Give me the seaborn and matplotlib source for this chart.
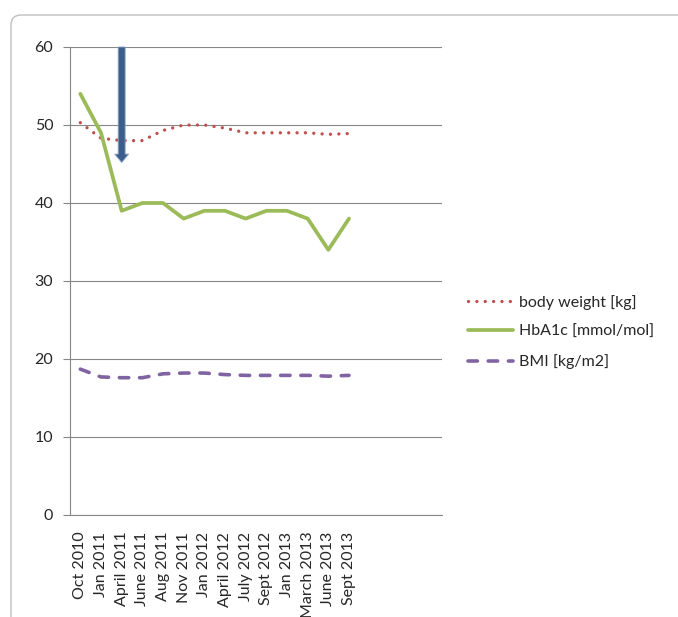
import numpy as np
import pandas as pd
import matplotlib
matplotlib.use("Agg")
import matplotlib.pyplot as plt
import seaborn as sns
from matplotlib.patches import FancyArrowPatch, FancyBboxPatch
from matplotlib.transforms import IdentityTransform

# Data
months = ["Oct 2010", "Jan 2011", "April 2011", "June 2011", "Aug 2011", "Nov 2011",
          "Jan 2012", "April 2012", "July 2012", "Sept 2012", "Jan 2013", "March 2013",
          "June 2013", "Sept 2013"]
n_empty = 4  # empty categories at the end of the axis
body_weight = [50.3, 48.3, 48.0, 48.0, 49.3, 50.0, 50.0, 49.6, 49.0, 49.0, 49.0, 49.0, 48.8, 48.9]
hba1c = [54, 49, 39, 40, 40, 38, 39, 39, 38, 39, 39, 38, 34, 38]
bmi = [18.7, 17.7, 17.6, 17.6, 18.1, 18.2, 18.2, 18.0, 17.9, 17.9, 17.9, 17.9, 17.8, 17.9]
arrow_month = "April 2011"
arrow_from, arrow_to = 60, 45.2

sns.set_style("white")
plt.rcParams["font.family"] = ["Lato", "DejaVu Sans"]

GRID = "#868686"
fig = plt.figure(figsize=(6.78, 6.17), dpi=100)
ax = fig.add_axes([70 / 678, 102 / 617, 372 / 678, 468 / 617])

df = pd.DataFrame({"idx": np.arange(len(months)), "month": months,
                   "bw": body_weight, "hba1c": hba1c, "bmi": bmi})

sns.lineplot(data=df, x="idx", y="bw", ax=ax, color="#C0504D", lw=2.4,
             linestyle=(0, (0.01, 2.5)), dash_capstyle="round",
             label="body weight [kg]", zorder=3)
sns.lineplot(data=df, x="idx", y="hba1c", ax=ax, color="#9BBB59", lw=2.7,
             solid_joinstyle="round", solid_capstyle="round",
             label="HbA1c [mmol/mol]", zorder=3)
sns.lineplot(data=df, x="idx", y="bmi", ax=ax, color="#8064A2", lw=2.6,
             linestyle=(0, (2.6, 3.0)), dash_capstyle="round",
             label="BMI [kg/m2]", zorder=3)

# axes styling (Excel look)
ncat = len(months) + n_empty
ax.set_xlim(-0.5, ncat - 0.5)
ax.set_ylim(0, 60)
ax.set_yticks(range(0, 61, 10))
ax.set_xticks(np.arange(len(months)))
ax.set_xticklabels(months, rotation=90)
ax.set_xticks(np.arange(ncat + 1) - 0.5, minor=True)
ax.tick_params(axis="x", which="major", length=0, pad=12, labelsize=11.5)
ax.tick_params(axis="x", which="minor", length=4, width=0.8, color=GRID, direction="out")
ax.tick_params(axis="y", length=5, width=0.8, color=GRID, pad=7, labelsize=11.5, left=True)
ax.grid(axis="y", color=GRID, lw=0.8)
ax.set_axisbelow(True)
for side in ["top", "right"]:
    ax.spines[side].set_visible(False)
for side in ["left", "bottom"]:
    ax.spines[side].set_color(GRID)
    ax.spines[side].set_linewidth(0.8)
ax.set_xlabel("")
ax.set_ylabel("")

# arrow marking the start of treatment
xa = months.index(arrow_month)
arr = FancyArrowPatch((xa, arrow_from), (xa, arrow_to),
                      arrowstyle="simple,head_length=0.6,head_width=1.0,tail_width=0.5",
                      mutation_scale=10, facecolor="#3B5E8D", edgecolor="#8AA2C4",
                      lw=0.6, shrinkA=0, shrinkB=0, zorder=5, clip_on=False)
ax.add_patch(arr)

handles, labels = ax.get_legend_handles_labels()
ax.get_legend().remove()
fig.legend(handles, labels, loc="center left", bbox_to_anchor=(468 / 678, 285 / 617),
           frameon=False, fontsize=11.5, handlelength=2.8, handletextpad=0.4,
           labelspacing=0.95, borderpad=0, borderaxespad=0)

# chart border (rounded corner)
border = FancyBboxPatch((11, -30), 720, 617 - 15 + 30,
                        boxstyle="round,pad=0,rounding_size=10",
                        transform=IdentityTransform(), fill=False,
                        edgecolor="#BFBFBF", lw=1)
fig.add_artist(border)

fig.savefig("out.png", dpi=100)
